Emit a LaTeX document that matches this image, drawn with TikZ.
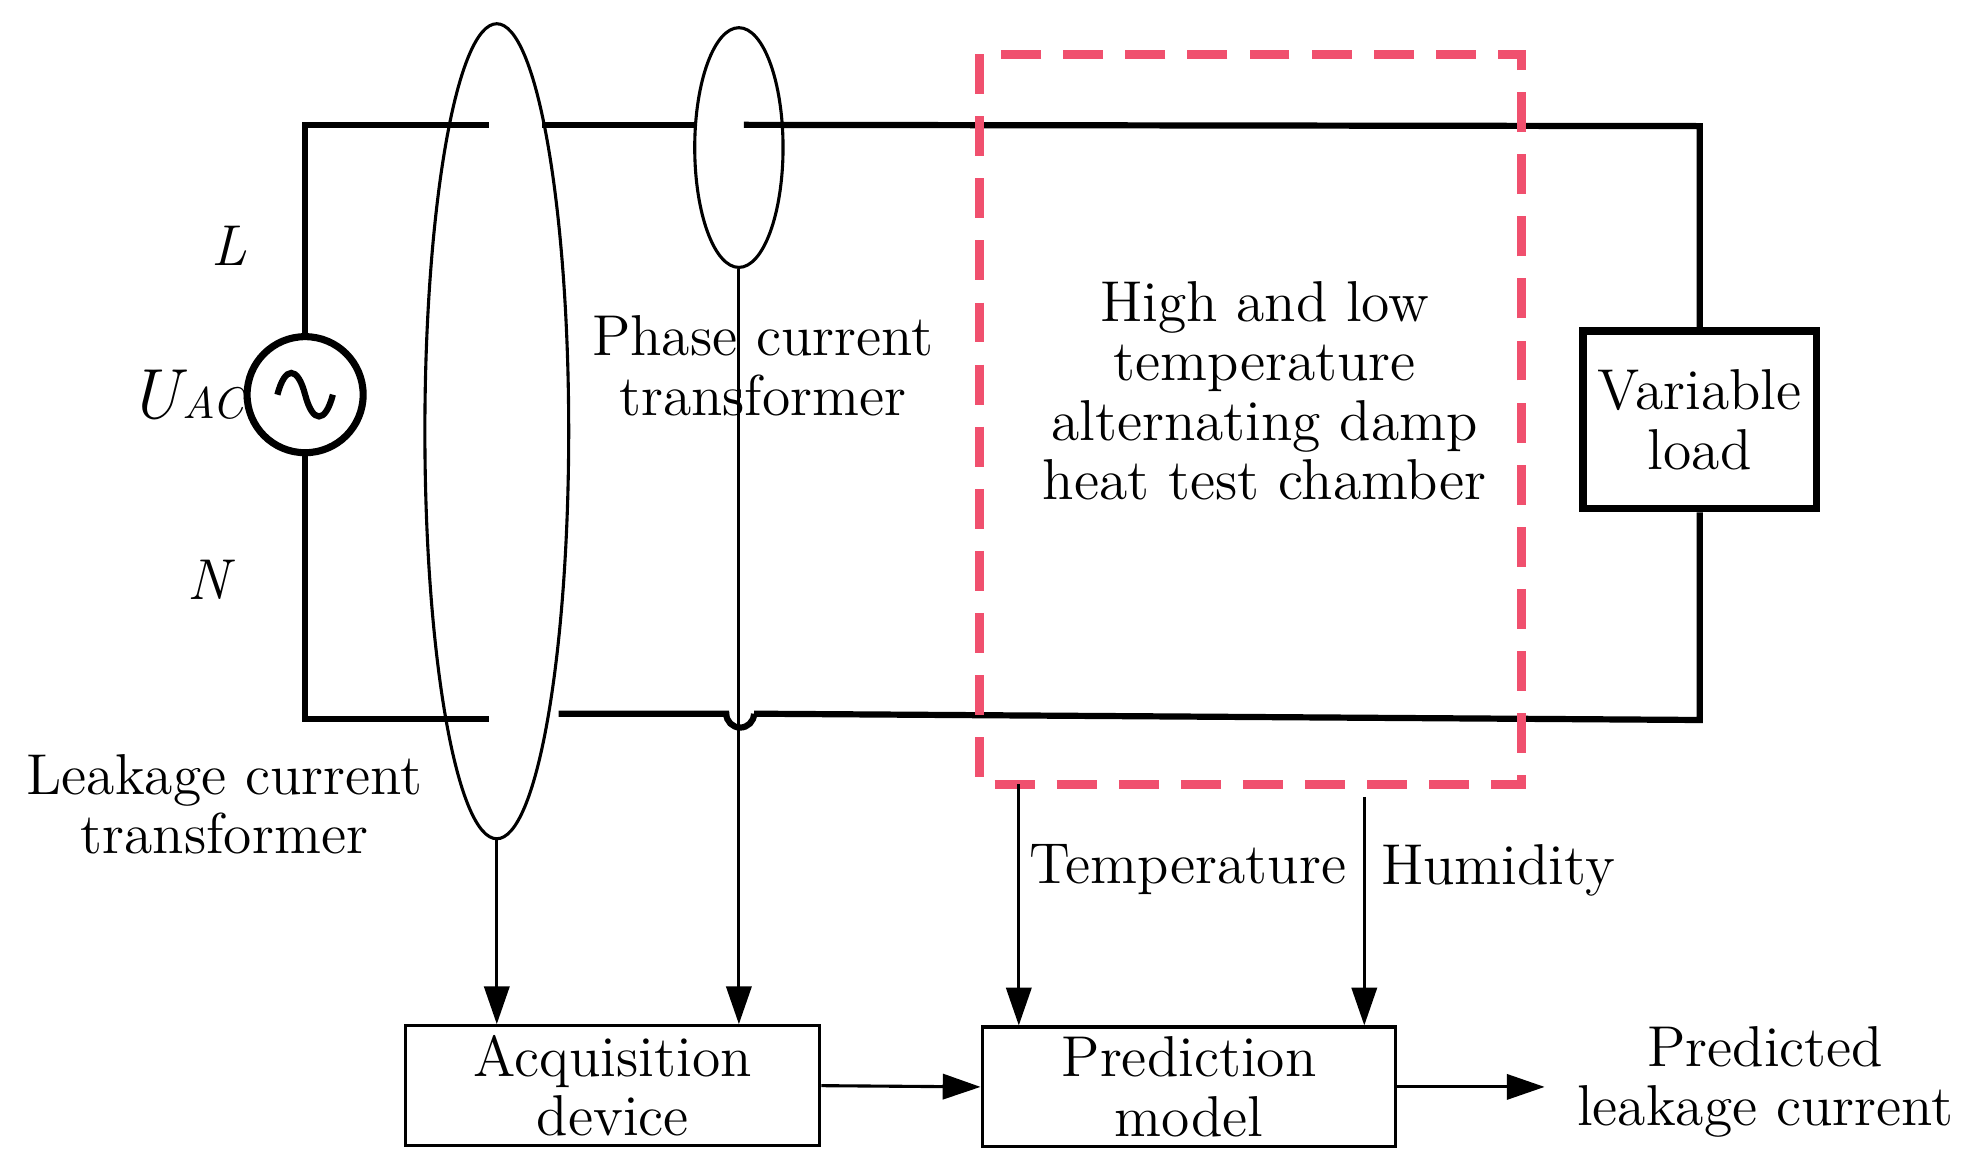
\documentclass[tikz,border=0pt]{standalone}
\usetikzlibrary{arrows.meta,shapes.geometric}
\begin{document}
\begin{tikzpicture}[x=0.01cm,y=-0.01cm,
  wire/.style={line width=1.4pt,black},
  thin/.style={line width=0.7pt},
  arr/.style={thin,-{Triangle[length=0.3cm,width=0.2cm]}},
  box/.style={draw,thin,minimum width=3.28cm,minimum height=0.95cm,inner sep=0pt,align=center},
  lbl/.style={font=\fontsize{13}{13.4}\selectfont,align=center,inner sep=0pt}]
\useasboundingbox (0,0) rectangle (1560,926);
% source
\node[draw,circle,line width=1.6pt,minimum size=0.92cm,inner sep=0pt] (src) at (242,313) {};
\draw[line width=1.4pt] (220,313) .. controls (226,290) and (236,290) .. (242,313) .. controls (248,336) and (258,336) .. (264,313);
\coordinate (tl) at (242,99); \coordinate (bl) at (242,570);
\draw[wire] (src.north) -- (tl) -- (388,99);
\draw[wire] (src.south) -- (bl) -- (388,570);
\draw[wire] (430,99) -- (553,99);
\draw[wire] (590,99) -- (1348,100) -- (1348,263);
\node[draw,line width=1.6pt,minimum width=1.85cm,minimum height=1.41cm,lbl] (load) at (1348,333) {Variable\\load};
\draw[wire] (load.south) -- (1348,571) -- (598,566);
\draw[wire] (598,566) arc (0:180:11) -- (443,566);
% transformers
\node[draw,ellipse,thin,minimum width=1.14cm,minimum height=6.46cm,inner sep=0pt] (lct) at (394,342) {};
\node[draw,ellipse,thin,minimum width=0.70cm,minimum height=1.90cm,inner sep=0pt] (pct) at (586,117) {};
% chamber
\draw[line width=2pt,dash pattern=on 9pt off 5pt,color={rgb,255:red,240;green,80;blue,110}] (777,43) rectangle (1207,622);
\node[lbl] (ch) at (1003,310) {High and low\\temperature\\alternating damp\\heat test chamber};
% boxes
\node[box,lbl,draw] (acq) at (486,861) {Acquisition\\device};
\node[box,lbl,draw] (pred) at (943,862) {Prediction\\model};
\node[lbl] (out) at (1400,858) {Predicted\\leakage current};
\coordinate (outend) at (1225,862);
\draw[arr] (lct.south) -- (lct.south |- acq.north);
\draw[arr] (pct.south) -- (pct.south |- acq.north);
\draw[arr] (acq.east) -- (pred.west);
\draw[arr] (pred.east) -- (outend);
\coordinate (t0) at (808,622); \coordinate (h0) at (1082,632);
\draw[arr] (t0) -- (t0 |- pred.north);
\draw[arr] (h0) -- (h0 |- pred.north);
% labels
\node[lbl] (L) at (182,195) {\itshape L};
\node[lbl] (N) at (165,460) {\itshape N};
\node[lbl] (U) at (148,313) {\fontsize{16}{16}\selectfont\itshape U\kern0.5pt\fontsize{10}{10}\selectfont AC};
\node[lbl] (pl) at (605,290) {Phase current\\transformer};
\node[lbl] (ll) at (178,638) {Leakage current\\transformer};
\node[lbl] (tt) at (942,690) {Temperature};
\node[lbl] (hh) at (1188,690) {Humidity};
\end{tikzpicture}
\end{document}
